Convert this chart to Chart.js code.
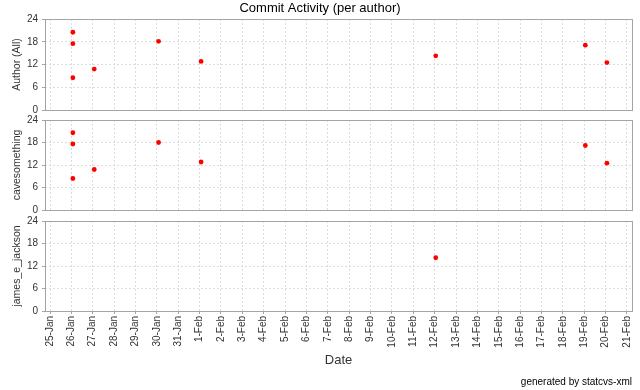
<!DOCTYPE html>
<html><head><meta charset="utf-8">
<script src="https://cdn.jsdelivr.net/npm/chart.js@4.4.1/dist/chart.umd.min.js"></script>
<style>
html,body{margin:0;padding:0;background:#fff;}
#wrap{position:relative;width:640px;height:390px;background:#fff;}
canvas{position:absolute;left:0;top:0;}
</style></head><body>
<div id="wrap">
<canvas id="c1" width="640" height="390"></canvas>
<canvas id="c2" width="640" height="390"></canvas>
<canvas id="c3" width="640" height="390"></canvas>
</div>
<script>
// ---- data ----
const dayLabels = ['25-Jan','26-Jan','27-Jan','28-Jan','29-Jan','30-Jan','31-Jan',
  '1-Feb','2-Feb','3-Feb','4-Feb','5-Feb','6-Feb','7-Feb','8-Feb','9-Feb','10-Feb',
  '11-Feb','12-Feb','13-Feb','14-Feb','15-Feb','16-Feb','17-Feb','18-Feb','19-Feb',
  '20-Feb','21-Feb'];
const yTicks = [0, 6, 12, 18, 24];
const chartTitle = 'Commit Activity (per author)';
const authorNames = ['Author (All)', 'cavesomething', 'james_e_jackson'];
// commit time: day index (days since 25-Jan) and hour of day
const allDays  = [1.07, 1.07, 1.07, 2.07, 5.08, 7.07, 18.05, 25.05, 26.06];
const allHours = [20.5, 17.5, 8.5, 10.8, 18.1, 12.8, 14.3, 17.1, 12.5];
const caveDays  = [1.07, 1.07, 1.07, 2.07, 5.08, 7.07, 25.05, 26.06];
const caveHours = [20.6, 17.6, 8.4, 10.8, 18.0, 12.8, 17.2, 12.5];
const jamesDays  = [18.05];
const jamesHours = [14.2];

// ---- styling / helpers ----
const FONT = "'Liberation Sans', Arial, sans-serif";
const GRID = '#dcdcdc';
const FRAME = '#a4a4a4';
const TXT = '#333333';

const framePlugin = {
  id: 'frame',
  beforeDatasetsDraw(chart) {
    const a = chart.chartArea, ctx = chart.ctx;
    ctx.save();
    ctx.strokeStyle = FRAME;
    ctx.lineWidth = 1;
    ctx.setLineDash([]);
    ctx.strokeRect(a.left + 0.5, a.top + 0.5, a.right - a.left, a.bottom - a.top);
    ctx.restore();
  }
};

function pts(days, hours) {
  return days.map((d, i) => ({x: d, y: hours[i]}));
}

function makeChart(id, o) {
  const scales = {
    x: {
      type: 'linear', min: -0.234, max: 27.234,
      grid: {color: GRID, drawTicks: o.xTicks, tickLength: 3,
             tickColor: FRAME, tickBorderDash: []},
      border: {display: false, dash: [2, 2]},
      ticks: {
        display: o.xTicks, stepSize: 1, includeBounds: false, autoSkip: false,
        maxRotation: 90, minRotation: 90, padding: 2,
        color: TXT, font: {family: FONT, size: 10},
        callback: v => dayLabels[v] !== undefined ? dayLabels[v] : ''
      },
      title: o.xTicks ? {display: true, text: 'Date', color: TXT,
             font: {family: FONT, size: 13}, padding: {top: 0, bottom: 8.2}} : {display: false},
      afterFit: s => { s.height = o.xHeight; s.paddingLeft = 0; s.paddingRight = 0; }
    },
    y: {
      min: 0, max: 24,
      afterBuildTicks: s => { s.ticks = yTicks.map(v => ({value: v})); },
      grid: {color: GRID, drawTicks: true, tickLength: 3,
             tickColor: FRAME, tickBorderDash: []},
      border: {display: false, dash: [2, 2]},
      ticks: {padding: 4, color: TXT, font: {family: FONT, size: 10}},
      title: {display: true, text: o.yTitle, color: TXT,
              font: {family: FONT, size: 10.5}, padding: {top: 11, bottom: 0}},
      afterFit: s => { s.width = 45; s.paddingTop = 0; s.paddingBottom = 0; }
    }
  };
  if (o.dummyRight) {
    scales.yR = {
      position: 'right', display: true,
      grid: {display: false}, border: {display: false}, ticks: {display: false},
      afterFit: s => { s.width = o.dummyRight; s.paddingTop = 0; s.paddingBottom = 0; }
    };
  }
  return new Chart(document.getElementById(id), {
    type: 'scatter',
    data: {datasets: [{
      data: pts(o.days, o.hours),
      backgroundColor: '#ff0000', borderColor: '#ff0000', borderWidth: 0,
      pointRadius: 2.4, pointHoverRadius: 2.4, pointStyle: 'circle'
    }]},
    options: {
      responsive: false, animation: false, devicePixelRatio: 1,
      layout: {padding: o.padding, autoPadding: false},
      plugins: {
        legend: {display: false}, tooltip: {enabled: false},
        title: o.title ? {display: true, text: o.title, color: '#000',
               font: {family: FONT, size: 13, weight: 'normal'}, padding: {top: 1, bottom: 2.4}}
               : {display: false},
        subtitle: o.footer ? {display: true, text: o.footer, position: 'bottom', align: 'end',
               color: '#000', font: {family: FONT, size: 10, weight: 'normal'},
               padding: {top: 0, bottom: 2}} : {display: false}
      },
      scales
    },
    plugins: [framePlugin]
  });
}

makeChart('c1', {days: allDays, hours: allHours, yTitle: authorNames[0],
  title: chartTitle, xTicks: false, xHeight: 0, dummyRight: 8,
  padding: {left: 0, right: 0, top: 0, bottom: 280}});
makeChart('c2', {days: caveDays, hours: caveHours, yTitle: authorNames[1],
  xTicks: false, xHeight: 0,
  padding: {left: 0, right: 8, top: 120, bottom: 180}});
makeChart('c3', {days: jamesDays, hours: jamesHours, yTitle: authorNames[2],
  xTicks: true, xHeight: 65, footer: 'generated by statcvs-xml',
  padding: {left: 0, right: 8, top: 221, bottom: 0}});
</script>
</body></html>
